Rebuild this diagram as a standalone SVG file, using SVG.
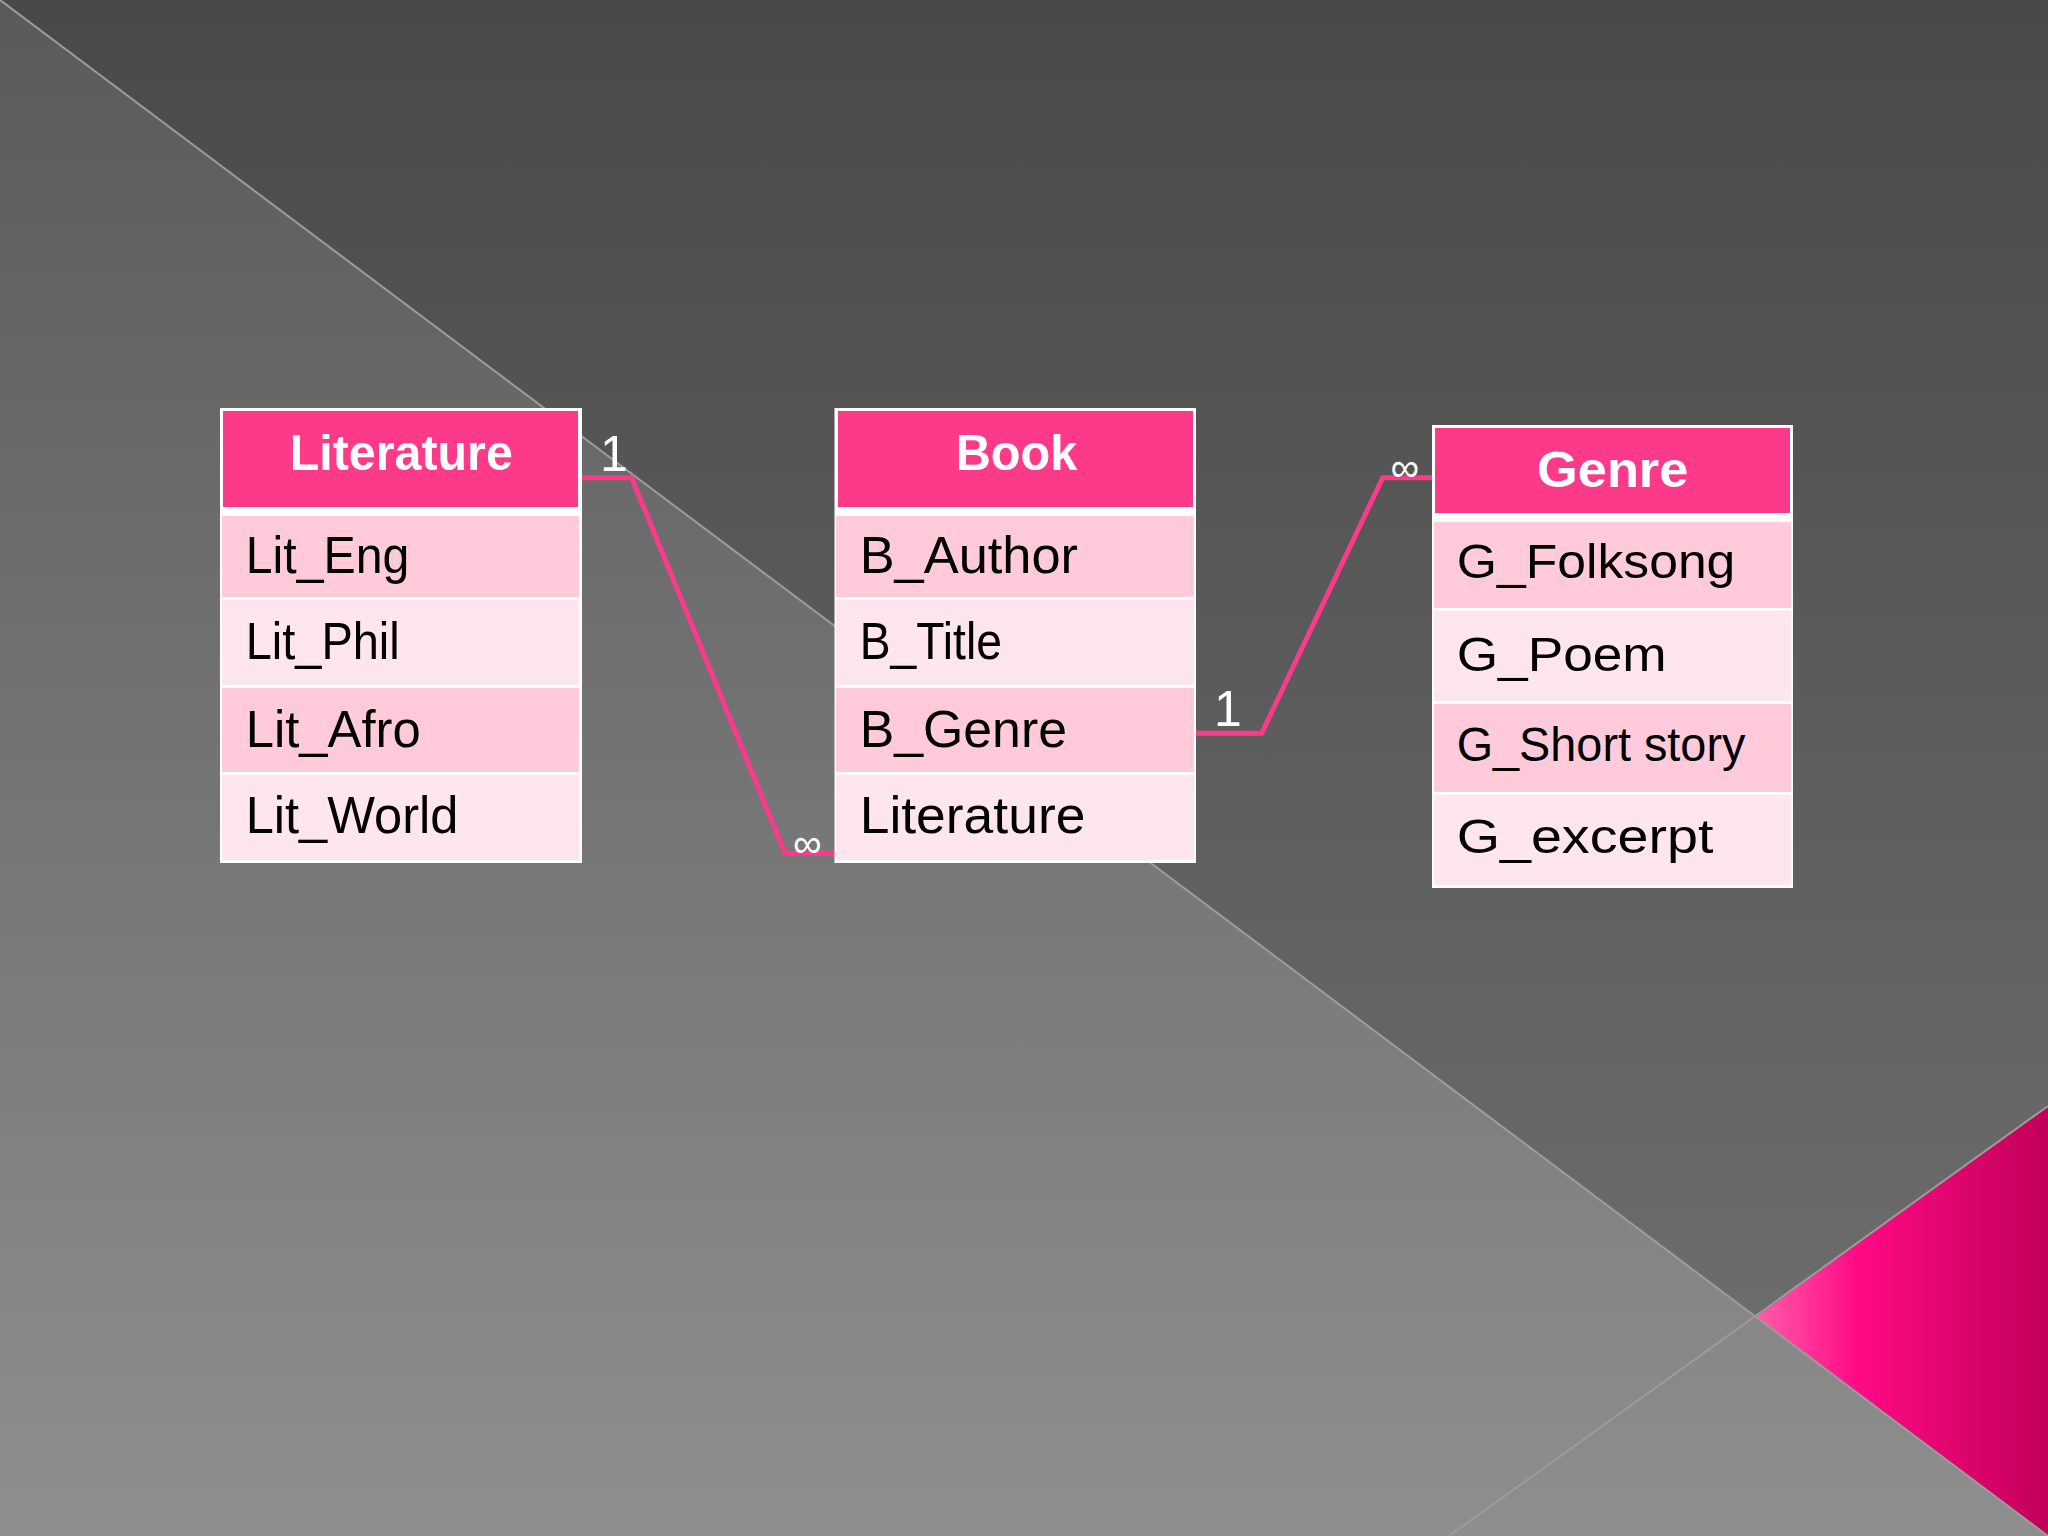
<svg xmlns="http://www.w3.org/2000/svg" width="2048" height="1536" viewBox="0 0 2048 1536">
  <defs>
    <linearGradient id="bgDark" x1="0" y1="0" x2="0" y2="1">
      <stop offset="0" stop-color="#494949"/>
      <stop offset="1" stop-color="#727272"/>
    </linearGradient>
    <linearGradient id="bgLight" x1="0" y1="0" x2="0" y2="1">
      <stop offset="0" stop-color="#5a5a5a"/>
      <stop offset="1" stop-color="#8e8e8e"/>
    </linearGradient>
    <linearGradient id="pinkTri" gradientUnits="userSpaceOnUse" x1="1756" y1="0" x2="2048" y2="0">
      <stop offset="0" stop-color="#ff5eab"/>
      <stop offset="0.35" stop-color="#ff0a84"/>
      <stop offset="1" stop-color="#c20058"/>
    </linearGradient>
    <style>
      .frame { fill: #ffffff; }
      .head { fill: #fd3a89; }
      .rowA { fill: #ffcbdb; }
      .rowB { fill: #ffe6ee; }
      .htxt { font-family: "Liberation Sans", Arial, sans-serif; font-weight: bold; font-size: 50px; fill: #ffffff; text-anchor: middle; }
      .rtxt { font-family: "Liberation Sans", Arial, sans-serif; font-size: 52px; fill: #000000; }
      .gtxt { font-family: "Liberation Sans", Arial, sans-serif; font-size: 49px; fill: #000000; }
      .conn { fill: none; stroke: #fb3a8b; stroke-width: 5; stroke-linejoin: miter; }
      .card { font-family: "Liberation Sans", Arial, sans-serif; fill: #ffffff; text-anchor: middle; }
      .bgline { stroke: #9c9c9c; stroke-width: 2; fill: none; }
    </style>
  </defs>

  <g id="background">
    <rect x="0" y="0" width="2048" height="1536" fill="url(#bgDark)"/>
    <polygon points="0,0 2048,1536 0,1536" fill="url(#bgLight)"/>
    <polygon points="1756,1317 2048,1106 2048,1536" fill="url(#pinkTri)"/>
    <line class="bgline" x1="0" y1="0" x2="2048" y2="1536"/>
    <line class="bgline" x1="2048" y1="1106" x2="1449" y2="1536"/>
  </g>

  <g id="connectors">
    <polyline class="conn" points="581,477.7 631.7,477.7 785,853.3 835,853.3"/>
    <polyline class="conn" points="1195,733.3 1261.7,733.3 1382.7,477.7 1433,477.7"/>
    <text class="card" x="614" y="470.7" font-size="50">1</text>
    <text class="card" x="807.3" y="857" font-size="40">∞</text>
    <text class="card" x="1228" y="726" font-size="50">1</text>
    <text class="card" x="1404.7" y="481" font-size="40">∞</text>
  </g>

  <g id="node-literature">
    <rect class="frame" x="220" y="408" width="362" height="455"/>
    <rect class="head" x="223" y="411" width="355" height="96"/>
    <rect class="rowA" x="222" y="516" width="357" height="81"/>
    <rect class="rowB" x="222" y="599.5" width="357" height="85.5"/>
    <rect class="rowA" x="222" y="688" width="357" height="84"/>
    <rect class="rowB" x="222" y="774.5" width="357" height="85.5"/>
    <text class="htxt" x="401.3" y="469.5" textLength="223" lengthAdjust="spacingAndGlyphs">Literature</text>
    <text class="rtxt" x="245.7" y="572.7" textLength="163.7" lengthAdjust="spacingAndGlyphs">Lit_Eng</text>
    <text class="rtxt" x="245.7" y="659.3" textLength="154" lengthAdjust="spacingAndGlyphs">Lit_Phil</text>
    <text class="rtxt" x="245.7" y="746.7" textLength="175" lengthAdjust="spacingAndGlyphs">Lit_Afro</text>
    <text class="rtxt" x="245.7" y="833.3" textLength="212.7" lengthAdjust="spacingAndGlyphs">Lit_World</text>
  </g>

  <g id="node-book">
    <rect class="frame" x="834.5" y="408" width="361.5" height="455"/>
    <rect class="head" x="838" y="411" width="355" height="96"/>
    <rect class="rowA" x="836" y="516" width="358" height="81"/>
    <rect class="rowB" x="836" y="599.5" width="358" height="85.5"/>
    <rect class="rowA" x="836" y="688" width="358" height="84"/>
    <rect class="rowB" x="836" y="774.5" width="358" height="85.5"/>
    <text class="htxt" x="1016.5" y="469.5" textLength="121.7" lengthAdjust="spacingAndGlyphs">Book</text>
    <text class="rtxt" x="859.7" y="572.7" textLength="218.3" lengthAdjust="spacingAndGlyphs">B_Author</text>
    <text class="rtxt" x="859.7" y="659.3" textLength="142.3" lengthAdjust="spacingAndGlyphs">B_Title</text>
    <text class="rtxt" x="859.7" y="746.7" textLength="207.3" lengthAdjust="spacingAndGlyphs">B_Genre</text>
    <text class="rtxt" x="859.7" y="833.3" textLength="225.7" lengthAdjust="spacingAndGlyphs">Literature</text>
  </g>

  <g id="node-genre">
    <rect class="frame" x="1432" y="425" width="361" height="463"/>
    <rect class="head" x="1435" y="428" width="355" height="85"/>
    <rect class="rowA" x="1434" y="522" width="357" height="86"/>
    <rect class="rowB" x="1434" y="610.5" width="357" height="90.5"/>
    <rect class="rowA" x="1434" y="704" width="357" height="88"/>
    <rect class="rowB" x="1434" y="794.5" width="357" height="90.5"/>
    <text class="htxt" x="1612.7" y="487.3" textLength="151.3" lengthAdjust="spacingAndGlyphs">Genre</text>
    <text class="gtxt" x="1456.7" y="577.5" textLength="278.7" lengthAdjust="spacingAndGlyphs">G_Folksong</text>
    <text class="gtxt" x="1456.7" y="671.3" textLength="210" lengthAdjust="spacingAndGlyphs">G_Poem</text>
    <text class="gtxt" x="1456.7" y="761.3" textLength="288.7" lengthAdjust="spacingAndGlyphs">G_Short story</text>
    <text class="gtxt" x="1456.7" y="853" textLength="256.7" lengthAdjust="spacingAndGlyphs">G_excerpt</text>
  </g>
</svg>
